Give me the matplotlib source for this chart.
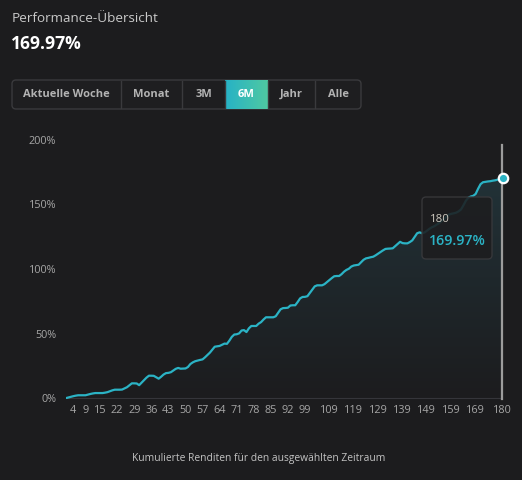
import matplotlib
matplotlib.use("Agg")
import matplotlib.pyplot as plt
import numpy as np
from matplotlib.patches import FancyBboxPatch, Polygon
from matplotlib.colors import LinearSegmentedColormap

plt.rcParams['font.family'] = ['Open Sans', 'DejaVu Sans']

# ---------------- data ----------------
days = list(range(1, 181))
cum_returns = [
    0.3, 0.8, 1.3, 1.8, 2.2, 2.5, 2.5, 2.5, 2.5, 3.0,
    3.5, 3.9, 4.2, 4.2, 4.2, 4.2, 4.5, 4.9, 5.6, 6.3,
    6.8, 6.8, 6.8, 6.9, 7.8, 8.7, 10.2, 11.7, 11.7, 11.6,
    10.3, 12.2, 14.2, 16.1, 17.6, 17.6, 17.5, 16.4, 15.3, 16.8,
    18.5, 19.6, 19.8, 20.3, 21.6, 22.9, 23.6, 23.0, 23.1, 23.2,
    24.3, 26.6, 27.9, 28.8, 29.3, 29.8, 30.2, 31.8, 33.6, 35.4,
    37.7, 40.0, 40.3, 40.6, 41.5, 42.4, 42.2, 44.7, 47.6, 49.4,
    49.6, 50.3, 52.5, 52.8, 51.3, 54.2, 56.0, 56.0, 56.0, 57.8,
    59.0, 61.0, 62.7, 62.7, 62.7, 62.7, 63.5, 66.2, 68.9, 69.8,
    69.9, 70.1, 71.8, 72.0, 72.0, 74.5, 77.3, 78.4, 78.5, 79.0,
    81.5, 84.0, 86.6, 87.4, 87.4, 87.4, 88.3, 89.9, 91.4, 93.0,
    94.4, 94.6, 94.6, 96.0, 97.9, 99.3, 100.2, 101.9, 102.7, 103.0,
    103.3, 105.2, 107.1, 108.2, 108.6, 109.1, 109.5, 110.6, 111.9, 113.1,
    114.4, 115.5, 115.7, 115.8, 116.0, 117.7, 119.4, 121.0, 120.0, 119.8,
    119.8, 120.8, 122.1, 124.8, 127.6, 128.3, 127.6, 128.2, 129.5, 131.0,
    132.2, 133.0, 134.2, 135.5, 137.0, 138.6, 140.4, 142.0, 142.6, 143.0,
    143.5, 144.5, 146.0, 149.2, 152.8, 155.0, 156.0, 156.5, 158.0, 162.0,
    165.5, 167.0, 167.3, 167.6, 167.8, 168.2, 168.5, 169.0, 169.5, 169.97,
]
x_tick_days = [4, 9, 15, 22, 29, 36, 43, 50, 57, 64, 71, 78, 85, 92, 99,
               109, 119, 129, 139, 149, 159, 169, 180]
y_ticks = [0, 50, 100, 150, 200]
buttons = ["Aktuelle Woche", "Monat", "3M", "6M", "Jahr", "Alle"]
active_button = "6M"
title = "Performance-Übersicht"
headline = "169.97%"
footer = "Kumulierte Renditen für den ausgewählten Zeitraum"

# ---------------- styling ----------------
W, H = 522, 480
BG = "#1c1c1e"
TEAL = "#2bb3c5"
TXT = "#a6a6a6"

fig = plt.figure(figsize=(W / 100, H / 100), dpi=100, facecolor=BG)

def fx(x):
    return x / W

def fy(y):
    return 1 - y / H

# header
fig.text(fx(12), fy(18), title, color="#c9c9c9", fontsize=9.7, va="center", ha="left")
fig.text(fx(11), fy(44), headline, color="#ffffff", fontsize=12.6, fontweight="bold",
         va="center", ha="left")

# button bar
bx = [12, 121, 182, 225, 268, 315, 361]
by0, by1 = 80, 109
cont = FancyBboxPatch((fx(bx[0]), fy(by1)), fx(bx[-1] - bx[0]), (by1 - by0) / H,
                      boxstyle="round,pad=0,rounding_size=0.008",
                      transform=fig.transFigure, facecolor="#1e1e20",
                      edgecolor="#3a3a3d", linewidth=1.0, zorder=1)
fig.patches.append(cont)
for i, lab in enumerate(buttons):
    x0, x1 = bx[i], bx[i + 1]
    if lab == active_button:
        gax = fig.add_axes([fx(x0), fy(by1), fx(x1 - x0), (by1 - by0) / H], zorder=3)
        grad = np.linspace(0, 1, 100).reshape(1, -1)
        cm = LinearSegmentedColormap.from_list("g", ["#27b2c6", "#4fc9a2"])
        gax.imshow(grad, aspect="auto", cmap=cm, extent=[0, 1, 0, 1])
        gax.axis("off")
        gax.text(0.5, 0.5, lab, color="#ffffff", fontsize=8.0, fontweight="bold",
                 ha="center", va="center", transform=gax.transAxes)
    else:
        fig.text(fx((x0 + x1) / 2), fy((by0 + by1) / 2), lab, color="#b3b3b3",
                 fontsize=8.0, fontweight="bold", ha="center", va="center", zorder=4)
    if 0 < i:
        fig.add_artist(plt.Line2D([fx(x0), fx(x0)], [fy(by0 + 1), fy(by1 - 1)],
                                  color="#3a3a3d", linewidth=1.0,
                                  transform=fig.transFigure, zorder=4))

# main axes
left, right, top, bottom = 66, 502.5, 139.5, 398.5
ax = fig.add_axes([fx(left), fy(bottom), fx(right - left), (bottom - top) / H])
ax.set_facecolor(BG)
ax.set_xlim(1, 180)
ax.set_ylim(0, 200)

xs = np.array(days)
ys = np.array(cum_returns)

# gradient area under the line
grad = np.linspace(0, 1, 256).reshape(-1, 1)
area_cm = LinearSegmentedColormap.from_list(
    "a", [(0.11, 0.11, 0.118, 1.0), (0.135, 0.21, 0.235, 1.0)])
im = ax.imshow(grad, aspect="auto", cmap=area_cm, origin="lower",
               extent=[1, 180, 0, 200], zorder=1)
poly = Polygon(np.column_stack([np.r_[xs, xs[-1], xs[0]], np.r_[ys, 0, 0]]),
               closed=True, transform=ax.transData, facecolor="none", edgecolor="none")
ax.add_patch(poly)
im.set_clip_path(poly)

ax.plot(xs, ys, color=TEAL, linewidth=1.6, zorder=3, solid_joinstyle="round")

# baseline
ax.axhline(0, color="#35353a", linewidth=1.5, zorder=2)

# cursor line and marker
ax.plot([xs[-1], xs[-1]], [0, 196], color="#9c9c9c", linewidth=1.6, zorder=2,
        clip_on=False)
ax.scatter([xs[-1]], [ys[-1]], s=46, facecolor=TEAL, edgecolor="#ffffff",
           linewidth=1.6, zorder=6, clip_on=False)

for sp in ax.spines.values():
    sp.set_visible(False)
ax.set_xticks(x_tick_days)
ax.set_xticklabels([str(d) for d in x_tick_days])
ax.set_yticks(y_ticks)
ax.set_yticklabels([f"{v}%" for v in y_ticks])
ax.tick_params(axis="both", length=0, colors=TXT, labelsize=7.8)
ax.tick_params(axis="x", pad=5)
ax.tick_params(axis="y", pad=7)

# tooltip
tx0, ty0, tx1, ty1 = 422, 197, 492, 259
tip = FancyBboxPatch((fx(tx0), fy(ty1)), fx(tx1 - tx0), (ty1 - ty0) / H,
                     boxstyle="round,pad=0,rounding_size=0.008",
                     transform=fig.transFigure, facecolor="#1d1d1f", alpha=0.88,
                     edgecolor="#3a3a3d", linewidth=1.0, zorder=10)
fig.patches.append(tip)
fig.text(fx(430), fy(219), str(days[-1]), color="#cfcac0", fontsize=8.2,
         ha="left", va="center", zorder=11)
fig.text(fx(429), fy(241), f"{cum_returns[-1]:.2f}%", color=TEAL, fontsize=10.3,
         fontweight="semibold", ha="left", va="center", zorder=11)

# footer
fig.text(fx(259), fy(459), footer, color="#c3c3c3", fontsize=7.4, ha="center", va="center")

fig.savefig("out.png", dpi=100, facecolor=BG)
